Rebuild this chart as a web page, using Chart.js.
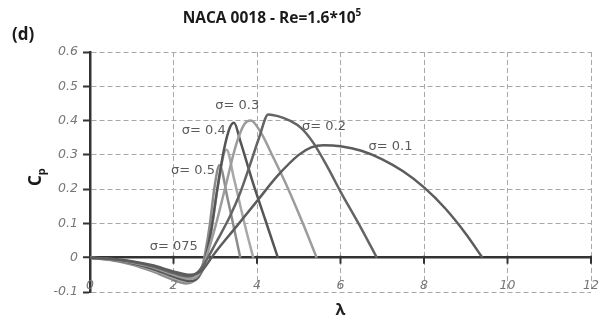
<!DOCTYPE html>
<html><head><meta charset="utf-8">
<script src="https://cdn.jsdelivr.net/npm/chart.js@4.4.0/dist/chart.umd.min.js"></script>
<style>html,body{margin:0;padding:0;background:#fff;overflow:hidden}#wrap{width:610px;height:325px}</style>
</head><body><div id="wrap"><canvas id="c" width="610" height="325"></canvas></div>
<script>
// ---- data ----
const xTickLabels = [0, 2, 4, 6, 8, 10, 12];
const seriesNames = ['σ= 0.1', 'σ= 0.2', 'σ= 0.3', 'σ= 0.4', 'σ= 0.5', 'σ= 075'];

const lam01 = [0, 0.5, 1.0, 1.5, 2.0, 2.4, 2.7, 2.88, 3.0, 3.5, 4.0, 4.5, 5.0, 5.3, 5.6, 6.0, 6.5, 7.0, 7.5, 8.0, 8.5, 9.0, 9.4];
const cp01  = [0, -0.003, -0.01, -0.022, -0.04, -0.05, -0.035, -0.005, 0.015, 0.09, 0.165, 0.24, 0.30, 0.322, 0.328, 0.325, 0.312, 0.287, 0.252, 0.205, 0.145, 0.07, 0];

const lam02 = [0, 0.5, 1.0, 1.5, 2.0, 2.4, 2.6, 2.8, 3.0, 3.35, 3.6, 3.83, 4.05, 4.27, 4.5, 4.8, 5.06, 5.35, 5.7, 6.0, 6.5, 6.87];
const cp02  = [0, -0.004, -0.012, -0.025, -0.045, -0.055, -0.04, -0.005, 0.04, 0.12, 0.19, 0.27, 0.35, 0.418, 0.413, 0.399, 0.378, 0.335, 0.262, 0.193, 0.085, 0];

const lam03 = [0, 0.5, 1.0, 1.5, 2.0, 2.4, 2.6, 2.75, 3.0, 3.25, 3.5, 3.7, 3.85, 4.07, 4.4, 4.75, 5.1, 5.43];
const cp03  = [0, -0.005, -0.014, -0.028, -0.05, -0.062, -0.05, -0.01, 0.09, 0.21, 0.33, 0.39, 0.40, 0.37, 0.29, 0.20, 0.10, 0];

const lam04 = [0, 0.5, 1.0, 1.5, 2.0, 2.4, 2.6, 2.75, 2.9, 3.05, 3.2, 3.35, 3.45, 3.6, 3.9, 4.2, 4.5];
const cp04  = [0, -0.006, -0.016, -0.032, -0.055, -0.068, -0.055, -0.01, 0.08, 0.20, 0.31, 0.38, 0.394, 0.34, 0.22, 0.11, 0];

const lam05 = [0, 0.5, 1.0, 1.5, 2.0, 2.4, 2.6, 2.75, 2.9, 3.05, 3.2, 3.27, 3.45, 3.7, 3.91];
const cp05  = [0, -0.006, -0.017, -0.035, -0.058, -0.07, -0.058, -0.02, 0.07, 0.20, 0.30, 0.315, 0.23, 0.10, 0];

const lam075 = [0, 0.5, 1.0, 1.5, 2.0, 2.3, 2.55, 2.7, 2.85, 3.0, 3.1, 3.3, 3.6];
const cp075  = [0, -0.007, -0.02, -0.04, -0.065, -0.075, -0.06, -0.02, 0.08, 0.22, 0.27, 0.17, 0];

const lamSeries = [lam01, lam02, lam03, lam04, lam05, lam075];
const cpSeries  = [cp01, cp02, cp03, cp04, cp05, cp075];

// ---- styles ----
const seriesColors = ['#5c5c5c', '#646464', '#9c9c9c', '#555555', '#a8a8a8', '#8c8c8c'];
// label anchor points (data units) for the curve annotations
const curveLabelPos = [[6.67, 0.325], [5.08, 0.382], [3.0, 0.444], [2.2, 0.371], [1.94, 0.254], [1.43, 0.032]];

const datasets = lamSeries.map((lam, k) => ({
  label: seriesNames[k],
  data: lam.map((x, i) => ({x: x, y: cpSeries[k][i]})),
  borderColor: seriesColors[k],
  backgroundColor: seriesColors[k],
  borderWidth: 2.5,
  pointRadius: 0,
  fill: false,
  cubicInterpolationMode: 'monotone'
}));

const isZero = c => c && c.tick && Math.abs(c.tick.value) < 1e-9;
const gridGray = '#a9a9a9';

const decorPlugin = {
  id: 'decor',
  afterDatasetsDraw(chart) {
    const ctx = chart.ctx, xs = chart.scales.x, ys = chart.scales.y;
    ctx.save();
    ctx.font = '13px "DejaVu Sans"';
    ctx.fillStyle = '#5a5a5a';
    ctx.textAlign = 'left';
    ctx.textBaseline = 'middle';
    seriesNames.forEach((t, k) => {
      const p = curveLabelPos[k];
      ctx.fillText(t, xs.getPixelForValue(p[0]), ys.getPixelForValue(p[1]));
    });
    ctx.restore();
  },
  afterDraw(chart) {
    const ctx = chart.ctx, xs = chart.scales.x, ys = chart.scales.y;
    const y0 = ys.getPixelForValue(0);
    const yLab = ys.getPixelForValue(-0.1) - 6;
    ctx.save();
    // x tick marks on the zero axis and x tick labels
    ctx.strokeStyle = '#333';
    ctx.lineWidth = 2;
    ctx.font = 'italic 12.5px "DejaVu Sans"';
    ctx.fillStyle = '#777';
    ctx.textAlign = 'center';
    ctx.textBaseline = 'middle';
    xTickLabels.forEach(v => {
      const px = xs.getPixelForValue(v);
      if (v !== 0) {
        ctx.beginPath(); ctx.moveTo(px, y0 - 2); ctx.lineTo(px, y0 + 6); ctx.stroke();
      }
      ctx.fillText(String(v), px, yLab);
    });
    // title
    ctx.fillStyle = '#1a1a1a';
    ctx.textAlign = 'left';
    ctx.textBaseline = 'alphabetic';
    ctx.font = 'bold 15.5px "Open Sans"';
    const main = 'NACA 0018 - Re=1.6*10';
    const w = ctx.measureText(main).width;
    ctx.font = 'bold 10px "Open Sans"';
    const ws = ctx.measureText('5').width;
    const tx = 272 - (w + ws) / 2;
    ctx.font = 'bold 15.5px "Open Sans"';
    ctx.fillText(main, tx, 23);
    ctx.font = 'bold 10px "Open Sans"';
    ctx.fillText('5', tx + w, 16);
    // panel letter
    ctx.font = 'bold 17px "Open Sans"';
    ctx.fillText('(d)', 12, 40);
    // y-axis title Cp
    ctx.translate(41, 186);
    ctx.rotate(-Math.PI / 2);
    ctx.font = 'bold 17px "Open Sans"';
    ctx.fillText('C', 0, 0);
    const wc = ctx.measureText('C').width;
    ctx.font = 'bold 11px "Open Sans"';
    ctx.fillText('p', wc, 4);
    ctx.restore();
  }
};

new Chart(document.getElementById('c'), {
  type: 'line',
  data: {datasets: datasets},
  options: {
    responsive: false,
    animation: false,
    devicePixelRatio: 1,
    layout: {padding: {top: 52, right: 19, left: 0, bottom: 0}},
    plugins: {legend: {display: false}, title: {display: false}, tooltip: {enabled: false}},
    scales: {
      x: {
        type: 'linear', min: 0, max: 12,
        ticks: {stepSize: 2, display: false},
        grid: {color: gridGray, lineWidth: 1, drawTicks: false},
        border: {display: false, dash: [5, 3]},
        title: {display: true, text: 'λ', font: {family: 'Open Sans', size: 16, weight: 'bold'}, color: '#222', padding: {top: 4, bottom: 5}},
        afterFit: s => { s.height = 33; }
      },
      y: {
        type: 'linear', min: -0.1, max: 0.6,
        ticks: {
          stepSize: 0.1, padding: 5, color: '#777',
          font: {family: 'DejaVu Sans', size: 12.5, style: 'italic'},
          callback: v => { const r = Math.round(v * 10) / 10; return r === 0 ? '0' : r.toFixed(1); }
        },
        grid: {
          color: c => isZero(c) ? '#333' : gridGray,
          lineWidth: c => isZero(c) ? 2.5 : 1,
          tickLength: 7, tickColor: '#333', tickWidth: 2, tickBorderDash: []
        },
        border: {display: true, color: '#333', width: 2.5, dash: c => isZero(c) ? [] : [5, 3]},
        afterFit: s => { s.width = 90; }
      }
    }
  },
  plugins: [decorPlugin]
});
</script>
</body></html>
